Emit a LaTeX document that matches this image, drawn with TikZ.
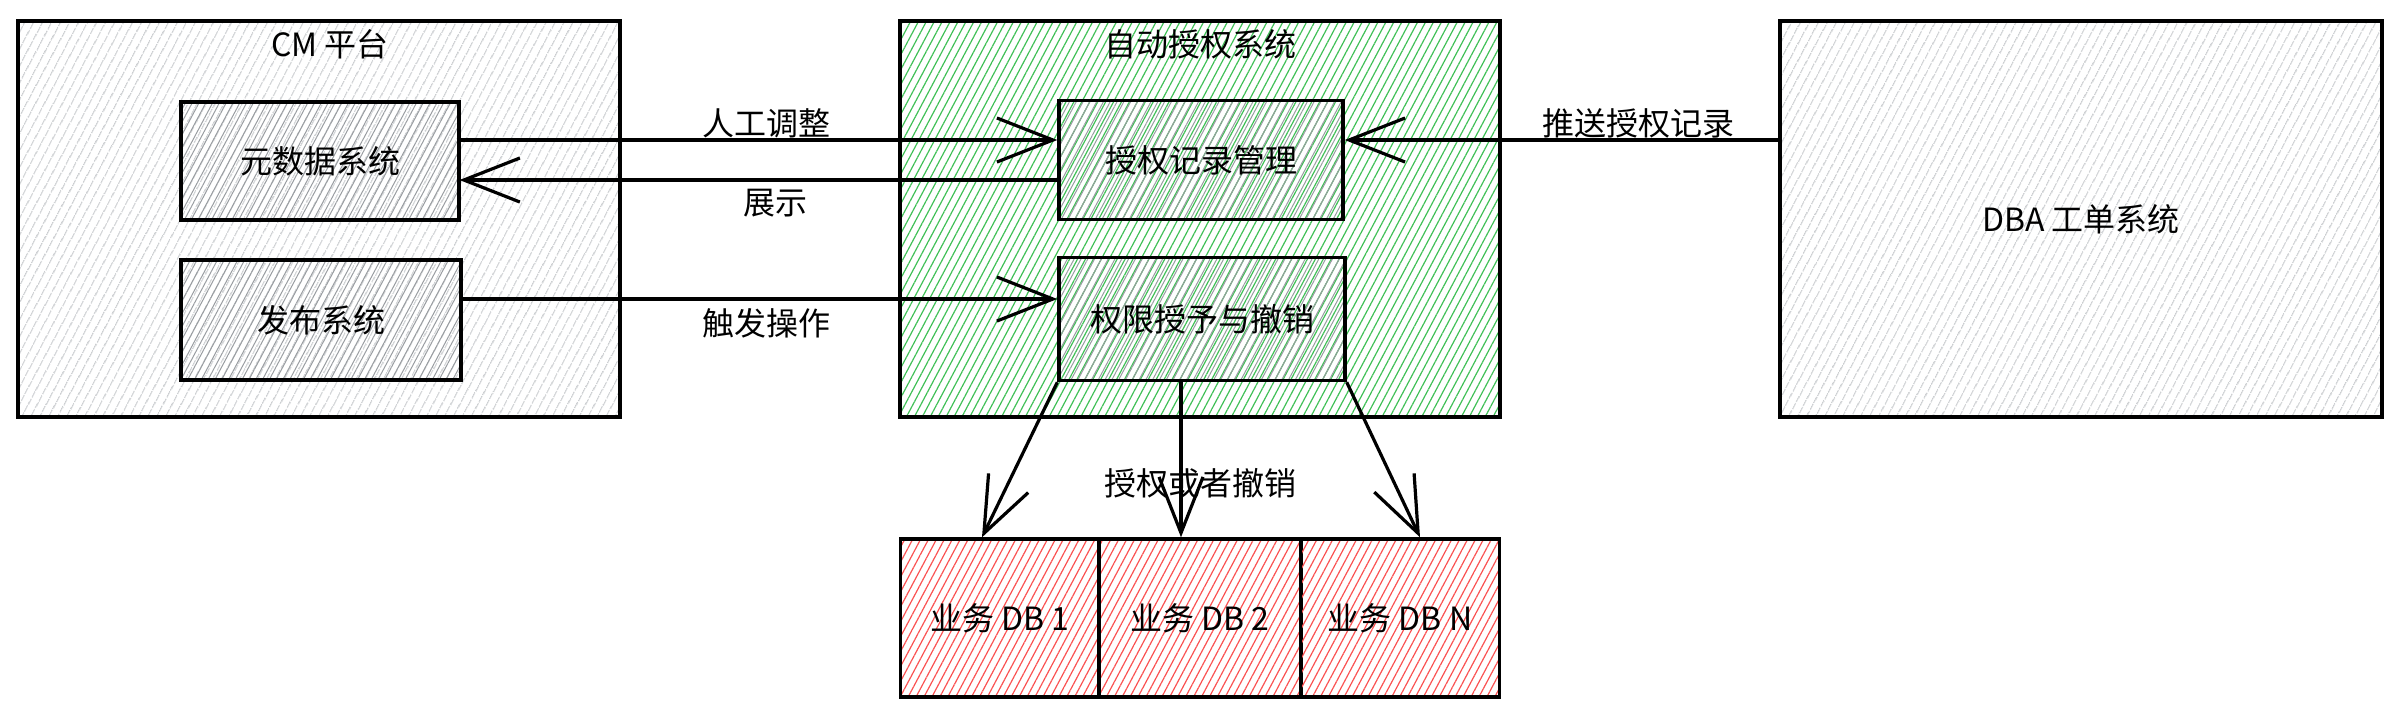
\documentclass[tikz,border=0pt]{standalone}
\usepackage{fontspec}
\setmainfont{Noto Sans CJK SC}
\usetikzlibrary{patterns.meta,arrows.meta,calc}
\definecolor{hgray}{HTML}{B0B4B8}
\definecolor{hdgray}{HTML}{999DA1}
\definecolor{hgreen}{HTML}{40C057}
\definecolor{hred}{HTML}{FA5252}
\tikzset{
 box/.style={draw=black,line width=1.7pt,rectangle,inner sep=0pt,font=\fontsize{16pt}{18pt}\selectfont},
 grayfill/.style={pattern={Lines[angle=62,distance=4pt,line width=0.5pt]},pattern color=hgray},
 darkfill/.style={pattern={Lines[angle=62,distance=3pt,line width=0.5pt]},pattern color=hdgray},
 greenfill/.style={pattern={Lines[angle=62,distance=3.5pt,line width=0.6pt]},pattern color=hgreen},
 redfill/.style={pattern={Lines[angle=62,distance=3.5pt,line width=0.6pt]},pattern color=hred},
 arr/.style={draw=black,line width=1.6pt,-{Straight Barb[length=28pt,width=22pt,line width=1.6pt]}},
 lbl/.style={font=\fontsize{16pt}{18pt}\selectfont,inner sep=0pt},
}
\begin{document}
\begin{tikzpicture}[x=0.5pt,y=-0.5pt]
\useasboundingbox (0,0) rectangle (2400,720);
% containers
\node[box,grayfill,minimum width=301pt,minimum height=198pt] (cm) at (319,219) {};
\node[lbl] (cmt) at (330,44) {CM 平台};
\node[box,greenfill,minimum width=300pt,minimum height=198pt] (auto) at (1200,219) {};
\node[lbl] (autot) at (1200,44) {自动授权系统};
\node[box,grayfill,minimum width=301pt,minimum height=198pt] (dba) at (2081,219) {DBA 工单系统};
% inner boxes
\node[box,darkfill,minimum width=139pt,minimum height=59pt] (yuan) at (320,161) {元数据系统};
\node[box,darkfill,minimum width=140pt,minimum height=60pt] (fabu) at (321,320) {发布系统};
\node[box,darkfill,minimum width=142pt,minimum height=59.5pt] (rec) at (1201,160) {授权记录管理};
\node[box,darkfill,minimum width=143pt,minimum height=61.5pt] (perm) at (1202,319) {权限授予与撤销};
% databases
\node[box,redfill,minimum width=99.5pt,minimum height=79pt] (db1) at (1000,618) {业务 DB 1};
\node[box,redfill,minimum width=101pt,minimum height=79pt] (db2) at (1200,618) {业务 DB 2};
\node[box,redfill,minimum width=99.5pt,minimum height=79pt] (dbn) at (1400,618) {业务 DB N};
% arrows
\draw[arr] ($(yuan.east)+(0,-21)$) -- ($(rec.west)+(0,-20)$);
\draw[arr] ($(rec.west)+(0,20)$) -- ($(yuan.east)+(0,19)$);
\draw[arr] ($(fabu.east)+(0,-21)$) -- ($(perm.west)+(0,-20)$);
\draw[arr] ($(dba.west)+(0,-79)$) -- ($(rec.east)+(0,-20)$);
\draw[arr] (perm.south west) -- ($(db1.north)+(-18,0)$);
\draw[arr] ($(perm.south)+(-21,0)$) -- ($(db2.north)+(-19,0)$);
\draw[arr] (perm.south east) -- ($(dbn.north)+(20,0)$);
% labels
\node[lbl] (l1) at (766,123) {人工调整};
\node[lbl] (l2) at (775,203) {展示};
\node[lbl] (l3) at (766,323) {触发操作};
\node[lbl] (l4) at (1638,123) {推送授权记录};
\node[lbl] (l5) at (1200,483) {授权或者撤销};
\end{tikzpicture}
\end{document}
